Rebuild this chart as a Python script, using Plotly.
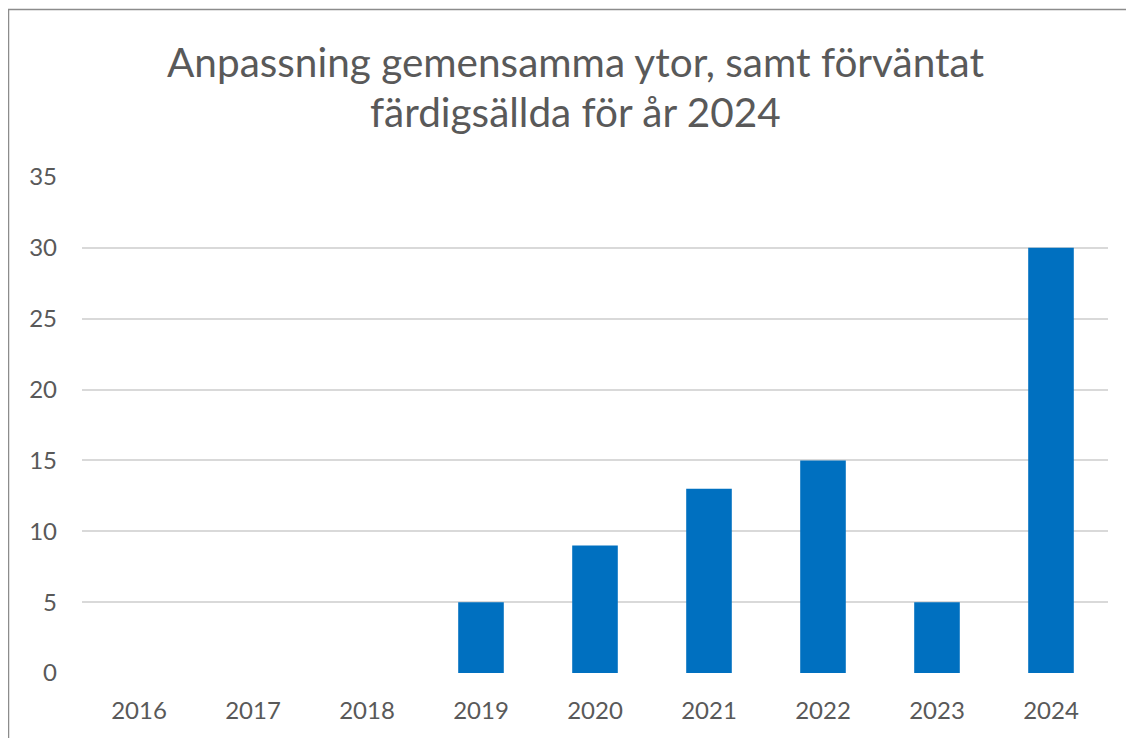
import plotly.graph_objects as go

years = ["2016", "2017", "2018", "2019", "2020", "2021", "2022", "2023", "2024"]
values = [0, 0, 0, 5, 9, 13, 15, 5, 30]
title_lines = ["Anpassning gemensamma ytor, samt förväntat", "färdigsällda för år 2024"]

W, H = 1134, 738
OFF = 8  # page body margin offset
L, R, T, B = 82 - OFF, 34, 177 - OFF, 73
pw, ph = W - L - R, H - T - B

def px_x(x):
    return (x - OFF - L) / pw

def px_y(y):
    return (H - B - (y - OFF)) / ph

fig = go.Figure(go.Bar(x=years, y=values, marker=dict(color="#0070C0", line=dict(width=0))))

font = "Lato, Calibri, Carlito, sans-serif"
fig.update_layout(
    width=W, height=H,
    margin=dict(l=L, r=R, t=T, b=B),
    paper_bgcolor="white", plot_bgcolor="white",
    bargap=0.6, showlegend=False,
    font=dict(family=font, color="#595959"),
    xaxis=dict(showgrid=False, showline=False, zeroline=False, ticks="",
               tickfont=dict(size=24, color="#595959"), ticklabelstandoff=21),
    yaxis=dict(range=[0, 35], dtick=5, showgrid=True, gridcolor="#D9D9D9", gridwidth=1.5,
               zeroline=False, showline=False, ticks="",
               tickfont=dict(size=24, color="#595959"), ticklabelstandoff=24),
)
fig.add_annotation(text=title_lines[0], x=px_x(575.5), xref="paper", y=px_y(62), yref="paper",
                   showarrow=False, yanchor="middle", xanchor="center",
                   font=dict(size=40.5, color="#595959", family=font))
fig.add_annotation(text=title_lines[1], x=px_x(575.5), xref="paper", y=px_y(112), yref="paper",
                   showarrow=False, yanchor="middle", xanchor="center",
                   font=dict(size=40.5, color="#595959", family=font))
# chart frame (top and left visible)
fig.add_shape(type="line", xref="paper", yref="paper", x0=px_x(8), x1=px_x(1150), y0=px_y(9.5), y1=px_y(9.5),
              line=dict(color="#8C8C8C", width=1.5))
fig.add_shape(type="line", xref="paper", yref="paper", x0=px_x(8.5), x1=px_x(8.5), y0=px_y(9), y1=px_y(760),
              line=dict(color="#8C8C8C", width=1.5))

fig.write_html("out.html")
